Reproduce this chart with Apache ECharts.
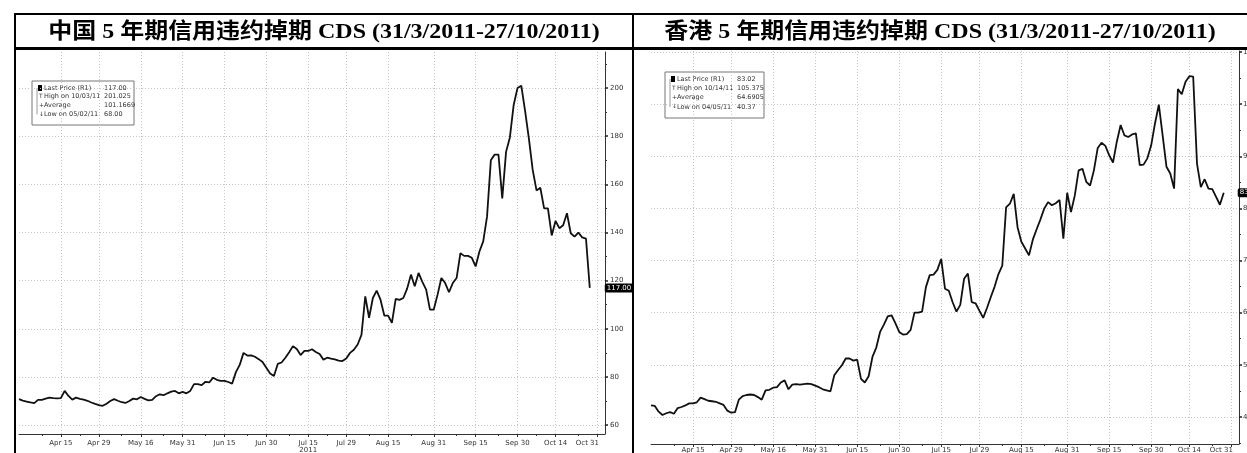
<!DOCTYPE html>
<html><head><meta charset="utf-8">
<script src="https://cdn.jsdelivr.net/npm/echarts@6/dist/echarts.min.js"></script>
<style>
html,body{margin:0;padding:0;background:#fff;width:1247px;height:453px;overflow:hidden;}
#chart{position:absolute;left:0;top:0;width:1247px;height:453px;}
.ln{position:absolute;background:#000;}
.title{position:absolute;top:15px;height:32px;line-height:32px;text-align:center;font-family:"Liberation Serif","Noto Sans CJK SC",serif;font-weight:bold;font-size:22px;color:#000;white-space:nowrap;}
.title span{display:inline-block;transform:scaleX(1.09);transform-origin:center;}
</style></head><body>
<div id="chart"></div>
<div class="ln" style="left:14px;top:13px;width:1233px;height:2px"></div>
<div class="ln" style="left:14px;top:47px;width:1233px;height:3px"></div>
<div class="ln" style="left:14px;top:13px;width:2px;height:440px"></div>
<div class="ln" style="left:632px;top:13px;width:2px;height:440px"></div>
<div class="title" style="left:16px;width:616px"><span>中国 5 年期信用违约掉期 CDS (31/3/2011-27/10/2011)</span></div>
<div class="title" style="left:634px;width:613px"><span>香港 5 年期信用违约掉期 CDS (31/3/2011-27/10/2011)</span></div>
<script>
// ---------- data ----------
const xTickDates = ['2011-04-15','2011-04-29','2011-05-16','2011-05-31','2011-06-15','2011-06-30','2011-07-15','2011-07-29','2011-08-15','2011-08-31','2011-09-15','2011-09-30','2011-10-14','2011-10-31'];
const xTickLabels = ['Apr 15','Apr 29','May 16','May 31','Jun 15','Jun 30','Jul 15','Jul 29','Aug 15','Aug 31','Sep 15','Sep 30','Oct 14','Oct 31'];
const chinaYTicks = [60,80,100,120,140,160,180,200];
const chinaYMinor = [70,90,110,130,150,170,190,210];
const hkYTicks = [40,50,60,70,80,90,100,110];
const hkYMinor = [35,45,55,65,75,85,95,105];
const chinaCDS = [70.8,70.2,69.8,69.4,69.1,70.5,70.5,71.0,71.4,71.2,71.1,71.2,74.2,72.1,70.6,71.4,70.9,70.6,70.1,69.4,
68.8,68.3,68.0,68.9,70.0,70.8,70.1,69.5,69.2,70.0,71.0,70.7,71.7,70.9,70.3,70.5,72.0,72.8,72.4,73.2,
73.9,74.2,73.2,73.8,73.2,74.2,77.0,77.0,76.6,78.0,77.7,79.7,78.8,78.4,78.4,77.9,77.2,82.0,85.0,90.0,
88.9,89.0,88.4,87.4,86.2,83.8,81.4,80.4,85.4,86.0,88.0,90.3,92.8,91.6,89.1,90.8,90.8,91.5,90.4,89.5,
87.2,88.0,87.6,87.3,86.8,86.6,87.7,90.0,91.3,93.5,97.5,113.5,104.6,112.8,115.9,112.1,105.5,105.5,102.5,112.4,
112.0,112.8,116.7,122.5,117.7,123.2,119.5,116.3,108.0,108.0,114.2,121.1,119.0,115.2,119.0,121.1,131.4,130.3,130.3,129.5,
125.9,132.1,136.3,146.6,170.0,172.4,172.4,154.2,173.5,179.5,193.0,200.0,201.0,190.5,179.0,166.0,157.5,158.6,150.0,150.0,
138.8,144.8,141.8,143.0,148.0,139.7,138.3,140.0,138.0,137.5,117.0];
const hkCDS = [42.2,42.1,41.0,40.37,40.7,40.9,40.6,41.7,41.9,42.2,42.6,42.6,42.8,43.7,43.4,43.1,43.0,42.9,42.6,42.3,
41.2,40.8,40.9,43.3,44.0,44.2,44.3,44.2,43.8,43.3,45.1,45.2,45.6,45.7,46.6,47.0,45.3,46.2,46.3,46.2,
46.3,46.4,46.3,46.0,45.7,45.3,45.1,44.9,48.0,49.0,49.9,51.2,51.2,50.8,51.0,47.3,46.6,47.8,51.5,53.3,
56.3,57.7,59.3,59.5,58.0,56.3,55.8,55.9,56.7,60.0,60.0,60.2,64.9,67.2,67.3,68.2,70.3,64.6,64.2,62.0,
60.2,61.5,66.5,67.5,62.0,61.8,60.4,59.0,60.9,63.0,65.0,67.4,69.0,80.2,80.9,82.8,76.4,73.6,72.3,71.0,
74.0,76.0,77.9,80.0,81.2,80.6,81.0,81.6,74.2,83.0,79.3,82.5,87.3,87.6,85.1,84.4,87.3,91.6,92.6,92.0,
90.2,88.8,92.8,96.0,94.0,93.7,94.2,94.4,88.3,88.4,89.6,92.1,96.3,99.9,94.0,88.0,86.7,83.8,102.9,101.9,
104.3,105.375,105.3,88.6,84.1,85.6,83.8,83.7,82.2,80.7,83.02];
const chinaLegend = [['Last Price (R1)','117.00'],['High on 10/03/11','201.025'],['Average','101.1669'],['Low on 05/02/11','68.00']];
const hkLegend = [['Last Price (R1)','83.02'],['High on 10/14/11','105.375'],['Average','64.6905'],['Low on 04/05/11','40.37']];

// business-day categories (axis positions only)
const days = [];
{ let d = new Date(Date.UTC(2011,2,31));
  while (days.length < 155) {
    const w = d.getUTCDay();
    if (w !== 0 && w !== 6) days.push(d.toISOString().slice(0,10));
    d = new Date(d.getTime() + 86400000);
  } }
const majorSet = new Set(xTickDates);
const minorSet = new Set();
for (let i = 0; i < xTickDates.length - 1; i++) {
  const a = days.indexOf(xTickDates[i]), b = days.indexOf(xTickDates[i+1]);
  minorSet.add(days[Math.round((a+b)/2)]);
}
minorSet.add(days[Math.round(days.indexOf(xTickDates[0])/2)]);
const labelOf = {}; xTickDates.forEach((d,i)=>labelOf[d]=xTickLabels[i]);
const lastTick = xTickDates[xTickDates.length-1];

const axisFont = {fontFamily:'DejaVu Sans', fontSize:7, color:'#333'};
const gridLine = {show:true, lineStyle:{color:'#c4c4c4', width:1, type:[1,2]}};

function xAxes(grid, withYear, margin){
  return [{
    gridIndex:grid, type:'category', data:days, boundaryGap:false,
    axisLine:{show:true, lineStyle:{color:'#333', width:1}},
    axisTick:{show:true, interval:(i,v)=>majorSet.has(v), length:3, lineStyle:{color:'#333'}},
    axisLabel:Object.assign({show:true, interval:(i,v)=>majorSet.has(v), margin:margin, lineHeight:7,
      formatter:(v)=> {
        if (v === lastTick) return '{e|' + labelOf[v] + '}';
        return (withYear && v==='2011-07-15') ? labelOf[v]+'\n2011' : labelOf[v];
      },
      rich:{e:{fontFamily:'DejaVu Sans', fontSize:7, color:'#333', padding:[0,20,0,0]}}}, axisFont),
    splitLine:Object.assign({interval:(i,v)=>majorSet.has(v)}, gridLine)
  },{
    gridIndex:grid, type:'category', data:days, boundaryGap:false, position:'bottom',
    axisLine:{show:false}, axisLabel:{show:false}, splitLine:{show:false},
    axisTick:{show:true, interval:(i,v)=>minorSet.has(v), length:2, lineStyle:{color:'#333'}}
  }];
}
function yAxes(grid, min, max, ticks, minor, margin){
  return [{
    gridIndex:grid, type:'value', position:'right', min:min, max:max,
    axisLine:{show:true, lineStyle:{color:'#333', width:1}},
    axisTick:{show:true, customValues:ticks, length:3, lineStyle:{color:'#222', width:1.5}},
    axisLabel:Object.assign({show:true, customValues:ticks, margin:margin}, axisFont),
    splitLine:gridLine
  },{
    gridIndex:grid, type:'value', position:'right', min:min, max:max,
    axisLine:{show:false}, axisLabel:{show:false}, splitLine:{show:false},
    axisTick:{show:true, customValues:minor, length:2, lineStyle:{color:'#333'}}
  }];
}
function legendBox(x, y, w, h, rows, valX, rowH){
  const children = [{type:'rect', shape:{x:0,y:0,width:w,height:h}, style:{fill:'#fff', stroke:'#777', lineWidth:1}}];
  children.push({type:'line', shape:{x1:5,y1:7,x2:5,y2:7+rowH*3}, style:{stroke:'#555', lineWidth:0.6}});
  children.push({type:'rect', shape:{x:6,y:4,width:4,height:6}, style:{fill:'#000'}});
  const marks = ['', 'T', '+', '\u2193'];
  rows.forEach((r,i)=>{
    const ty = 7 + i*rowH;
    if (i>0) children.push({type:'text', x:7, y:ty, style:{text:marks[i], fontSize:6, fill:'#333', fontFamily:'DejaVu Sans', verticalAlign:'middle'}});
    children.push({type:'text', x:12, y:ty, style:{text:r[0], fontSize:6.5, fill:'#333', fontFamily:'DejaVu Sans', verticalAlign:'middle'}});
    children.push({type:'text', x:valX, y:ty, style:{text:r[1], fontSize:6.5, fill:'#333', fontFamily:'DejaVu Sans', verticalAlign:'middle'}});
  });
  return {type:'group', x:x, y:y, z:100, children:children};
}
function endLabel(dist){
  return {show:true, distance:dist, formatter:(p)=>{const v=Array.isArray(p.value)?p.value[1]:p.value; return v.toFixed(2);},
    color:'#fff', backgroundColor:'#000', fontSize:7, fontFamily:'DejaVu Sans', padding:[1,2], borderRadius:2};
}

const chart = echarts.init(document.getElementById('chart'), null, {renderer:'canvas'});
chart.setOption({
  animation:false,
  backgroundColor:'#fff',
  grid:[{left:19, right:642, top:52, bottom:19, containLabel:false, outerBoundsMode:'none'},
        {left:651, right:8, top:51, bottom:9, containLabel:false, outerBoundsMode:'none'}],
  xAxis:[...xAxes(0, true, 6), ...xAxes(1, false, 3)],
  yAxis:[...yAxes(0, 56.3, 215, chinaYTicks, chinaYMinor, 5), ...yAxes(1, 34.8, 110.2, hkYTicks, hkYMinor, 4)],
  series:[
    {type:'line', xAxisIndex:0, yAxisIndex:0, data:chinaCDS, symbol:'none', lineStyle:{color:'#111', width:1.8}, endLabel:endLabel(15), z:5},
    {type:'line', xAxisIndex:2, yAxisIndex:2, data:hkCDS, symbol:'none', lineStyle:{color:'#111', width:1.8}, endLabel:endLabel(14), z:5}
  ],
  graphic:[legendBox(32, 81, 102, 44, chinaLegend, 72, 8.8), legendBox(665, 72, 99, 46, hkLegend, 72, 9.3)]
});
</script>
</body></html>
